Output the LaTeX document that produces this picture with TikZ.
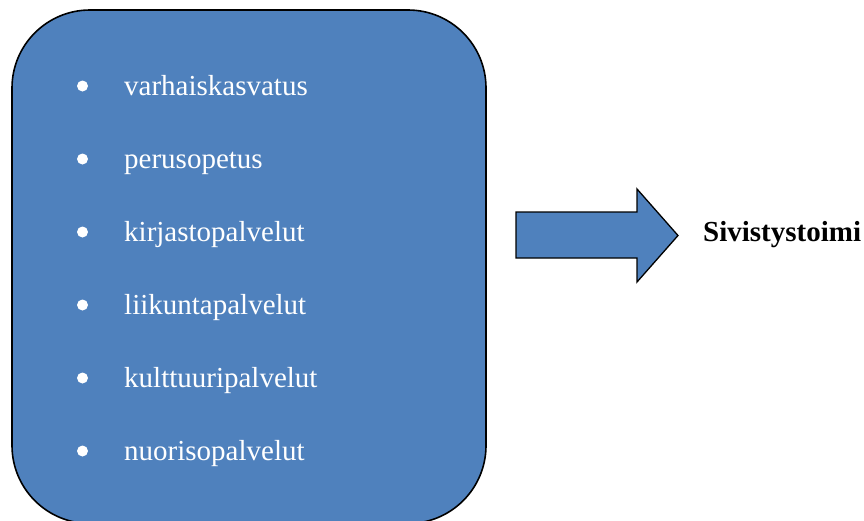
\documentclass[tikz,border=0pt]{standalone}
\usepackage{fontspec}
\setmainfont{Liberation Serif}
\begin{document}
\begin{tikzpicture}[x=1pt,y=-1pt,
  panel/.style={draw=black,line width=1.6pt,fill=boxblue,rounded corners=78pt},
  arrowshape/.style={draw=black,line width=1.3pt,fill=boxblue,line join=miter},
  item/.style={anchor=base west,inner sep=0pt,text=white,font=\fontsize{29}{35}\selectfont},
  dot/.style={circle,fill=white,inner sep=0pt,minimum size=11pt},
  title/.style={anchor=base west,inner sep=0pt,font=\bfseries\fontsize{29}{35}\selectfont}]
\definecolor{boxblue}{HTML}{4F81BD}
\useasboundingbox (0,0) rectangle (864,520);
\begin{scope}
\clip (0,0) rectangle (864,520);
\draw[panel] (12,10) rectangle (486,523.5);
\end{scope}
\foreach \t [count=\i] in {varhaiskasvatus,perusopetus,kirjastopalvelut,liikuntapalvelut,kulttuuripalvelut,nuorisopalvelut}{
  \pgfmathsetmacro{\yb}{95+73*(\i-1)}
  \node[item] (item\i) at (124,\yb) {\t};
  \node[dot] (dot\i) at (82.5,\yb-9) {};
}
\draw[arrowshape] (516,212) -- (637,212) -- (637,189) -- (678,235.5) -- (637,282) -- (637,258) -- (516,258) -- cycle;
\node[title] (title) at (703,241) {Sivistystoimi};
\end{tikzpicture}
\end{document}
